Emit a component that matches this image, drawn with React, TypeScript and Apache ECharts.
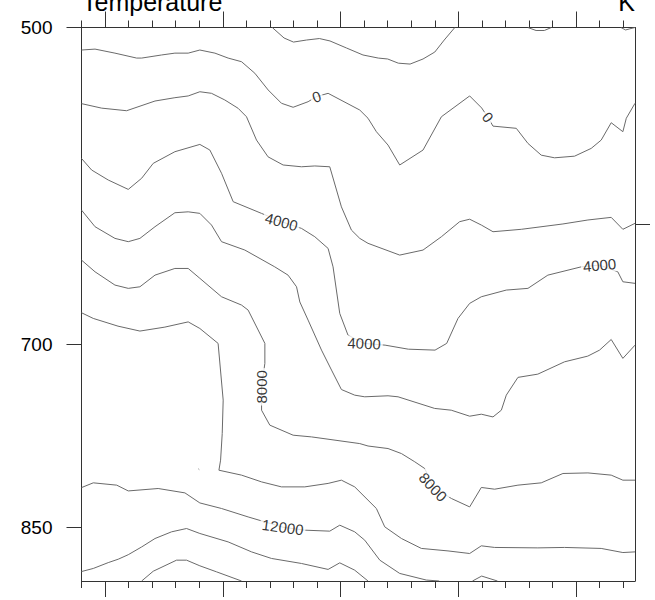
import React, { useEffect, useRef } from "react";
import * as echarts from "echarts";

// x: horizontal coordinate (98..145), y: pressure (hPa, log axis)
const X_MIN = 98;
const X_MAX = 145;
const P_TOP = 500;
const P_BOTTOM = 900;

const xMinorTicks = [98, 100, 102, 104, 106, 108, 110, 112, 114, 116, 118, 120, 122, 124, 126, 128, 130, 132, 134, 136, 138, 140, 142, 144];
const xMajorTicks = [100, 110, 120, 130, 140];
const pressureTicks = [500, 700, 850];
const rightTicks = [616];

const contourM2000 = [[114.2, 500], [115.2, 505.6], [116.0, 507.8], [117.1, 506.7], [118.2, 505.9], [119.1, 507.2], [120.5, 511], [121.9, 514.8], [123.2, 516.5], [124.0, 517], [124.9, 519.3], [125.9, 519.8], [127.0, 517], [128.0, 513.2], [128.8, 506.7], [129.7, 500]];
const contourM2000b = [[135.9, 500], [136.6, 501.6], [137.3, 501.6], [137.9, 500]];
const contourM2000c = [[143.8, 500], [144.2, 501.3], [144.5, 500.8], [145, 500]];

const contour0 = [[98.0, 512.1], [99.15, 511.6], [100.84, 513.8], [102.68, 516.5], [103.11, 516.5], [104.8, 514.8], [105.93, 513.8], [107.06, 513.8], [108.05, 512.1], [109.33, 513.8], [110.45, 516.5], [111.59, 518.5], [112.72, 524.9], [113.85, 534.3], [114.98, 541.9], [115.97, 544.2], [117.24, 541.0], [117.95, 538.1], [118.94, 536.2], [121.63, 545.8], [122.33, 550.6], [123.04, 558.5], [124.03, 566.5], [125.02, 578.6], [127.0, 569.5], [128.56, 549.7], [130.96, 537.7], [131.98, 544.6], [132.51, 550.0], [132.94, 555.2], [134.92, 556.5], [135.91, 565.5], [137.04, 572.6], [138.17, 574.2], [139.87, 573.2], [141.28, 568.5], [142.13, 563.5], [142.98, 553.2], [143.97, 558.5], [144.26, 550.6], [145, 541.9]];

const contour2000 = [[98.0, 542.1], [99.71, 544.7], [101.83, 546.2], [104.24, 540.6], [105.93, 538.7], [107.06, 537.7], [108.05, 535.3], [109.04, 536.2], [110.17, 540], [111.3, 544.8], [112.01, 549.7], [112.86, 563.5], [113.84, 573.6], [115.12, 578.6], [116.68, 579.7], [117.81, 579.2], [119.08, 579.7], [120.07, 604.9], [120.92, 620], [121.63, 625.5], [122.33, 628.8], [125.02, 636.7], [127.0, 633.3], [128.56, 624.4], [130.11, 614.5], [130.96, 612.9], [131.95, 616.7], [132.94, 621.1], [135.35, 619.5], [138.88, 616.0], [141.0, 613.4], [142.98, 611.7], [143.97, 619.5], [145, 615.6]];

const contour4000 = [[98.0, 574.6], [98.86, 581.7], [100.27, 587.9], [101.97, 593.8], [103.11, 586.8], [104.09, 577.6], [105.93, 570.5], [108.05, 566.1], [108.9, 569.5], [109.89, 583.7], [110.88, 601.6], [113.28, 609.1], [114.98, 614.5], [116.68, 618.9], [117.81, 624.4], [118.94, 632.2], [119.36, 644.7], [119.93, 677.4], [120.63, 693.2], [122.0, 699.3], [123.78, 700.6], [125.75, 703.6], [128.02, 704.3], [129.01, 699.3], [129.97, 681.0], [130.96, 670.2], [131.95, 665.5], [134.07, 660.8], [135.91, 659.6], [137.6, 650.4], [140.43, 644.7], [141.99, 643.5], [143.54, 648.1], [143.97, 655.0], [145, 656.1]];

const contour6000 = [[98.0, 607.0], [99.15, 617.8], [100.84, 625.5], [101.97, 627.7], [102.96, 625.5], [104.24, 617.8], [105.93, 608.7], [107.06, 608.1], [108.05, 609.1], [109.04, 616.7], [109.89, 627.7], [111.87, 633.3], [114.41, 644.7], [115.54, 650.4], [116.26, 658.5], [116.54, 669.2], [117.24, 682.2], [118.38, 704.3], [119.23, 719.4], [120.07, 734.4], [121.2, 738.8], [122.05, 740.1], [124.03, 739.3], [124.88, 740.1], [127.99, 749.3], [129.4, 750.7], [130.96, 755.5], [131.95, 753.9], [132.94, 756.1], [133.65, 750.7], [134.07, 738.8], [135.06, 725.0], [136.75, 722.5], [139.02, 713.1], [140.99, 708.8], [141.99, 704.3], [142.98, 696.4], [143.97, 710.5], [145, 700.6]];

const contour8000 = [[98.0, 640.1], [99.15, 648.1], [100.84, 657.3], [101.97, 659.6], [102.96, 658.5], [104.24, 650.4], [105.93, 645.8], [107.06, 645.8], [108.05, 652.6], [109.89, 665.5], [111.59, 671.4], [112.15, 675.0], [113.57, 699.3], [113.57, 714.3], [113.29, 732.3], [113.29, 750.7], [113.99, 762.7], [115.97, 770.9], [117.53, 772.3], [121.63, 777.8], [122.33, 779.8], [124.03, 781.9], [125.17, 786.1], [126.3, 793.0], [127.15, 798.7], [127.85, 814.4], [129.41, 824.5], [130.96, 831.9], [131.95, 814.9], [133.08, 816.4], [135.06, 812.9], [137.04, 810.9], [138.88, 802.9], [141.0, 802.4], [142.98, 804.3], [143.97, 808.6], [145, 808.6]];

const contour10000 = [[98.0, 676.9], [99.0, 681.0], [101.1, 686.6], [102.96, 690.2], [105.08, 687.3], [107.06, 683.5], [108.05, 688.3], [109.6, 699.3], [110.03, 742.7], [109.95, 769.5], [109.81, 791.6], [109.67, 800.1], [111.59, 804.3], [113.29, 810.1], [114.98, 814.4], [116.96, 814.4], [118.94, 811.4], [120.07, 808.6], [121.2, 814.4], [123.04, 833.3], [123.75, 849.7], [125.17, 860.3], [126.86, 869.4], [129.12, 871.7], [130.96, 874.1], [131.95, 867.0], [133.08, 868.5], [136.75, 868.9], [139.02, 868.5], [142.13, 869.4], [143.97, 873.2], [145, 872.6]];
const contour10000dot = [[107.93, 799.0], [108.0, 799.6]];

const contour12000 = [[98.0, 815.0], [99.0, 810.9], [100.99, 812.9], [101.97, 817.9], [104.51, 815.8], [106.78, 819.6], [108.05, 828.4], [109.89, 833.3], [112.15, 840.8], [115.09, 850.0], [116.96, 852.7], [119.08, 853.6], [119.93, 848.2], [121.2, 854.2], [122.05, 861.8], [123.33, 880.3], [125.02, 892.8], [127.28, 899.1], [128.38, 900]];
const contour12000b = [[131.2, 900], [131.98, 895.3], [133.32, 900]];

const contour14000 = [[98.0, 891.0], [99.0, 888.1], [100.27, 882.6], [101.12, 879.4], [101.97, 875.2], [103.11, 868.0], [104.24, 860.3], [105.65, 854.2], [106.92, 851.2], [108.05, 855.7], [110.45, 863.4], [112.44, 872.6], [114.13, 878.7], [116.68, 883.4], [118.94, 889.0], [119.93, 882.8], [121.2, 889.7], [122.33, 900]];

const contour16000 = [[103.11, 900], [104.09, 890.7], [106.07, 880.3], [106.92, 880.3], [108.05, 885.6], [109.47, 891.3], [111.59, 900]];

const contourLines = [
  contourM2000, contourM2000b, contourM2000c, contour0, contour2000, contour4000,
  contour6000, contour8000, contour10000, contour10000dot, contour12000, contour12000b,
  contour14000, contour16000,
];

// contour labels: text, x, pressure, rotation (deg)
const labelTexts = ["0", "0", "4000", "4000", "4000", "8000", "8000", "12000"];
const labelX = [117.95, 132.51, 114.98, 122.0, 141.99, 113.29, 127.85, 115.09];
const labelP = [538.1, 550.0, 614.5, 699.3, 643.5, 732.3, 814.4, 850.0];
const labelRot = [20, -50, -15, -2, 5, 90, -47, -8];

const FONT = "'Liberation Sans', Arial, Helvetica, sans-serif";
const FRAME = "#333";
const LINE = "#6a6a6a";

export default function App() {
  const ref = useRef<HTMLDivElement>(null);

  useEffect(() => {
    if (!ref.current) return;
    const chart = echarts.init(ref.current, null, { renderer: "svg" });

    const frameLine = { show: true, lineStyle: { color: FRAME, width: 1 } };
    const mkX = (position: string, ticks: number[], len: number, showLine: boolean) => ({
      type: "value",
      min: X_MIN,
      max: X_MAX,
      position,
      axisLine: showLine ? frameLine : { show: false },
      axisTick: { show: true, inside: false, length: len, customValues: ticks, lineStyle: { color: FRAME, width: 1 } },
      axisLabel: { show: false },
      splitLine: { show: false },
    });

    const series: any[] = contourLines.map((d) => ({
      type: "line",
      data: d,
      xAxisIndex: 0,
      yAxisIndex: 0,
      symbol: "none",
      showSymbol: false,
      silent: true,
      smooth: false,
      lineStyle: { color: LINE, width: 1 },
      z: 2,
    }));

    series.push({
      type: "scatter",
      xAxisIndex: 0,
      yAxisIndex: 0,
      symbolSize: 0,
      silent: true,
      z: 5,
      label: {
        show: true,
        position: "inside",
        fontSize: 15,
        fontFamily: FONT,
        color: "#000",
        backgroundColor: "#fff",
        padding: [0, 2],
      },
      data: labelTexts.map((t, i) => ({
        value: [labelX[i], labelP[i]],
        label: { formatter: t, rotate: labelRot[i] },
      })),
    });

    chart.setOption({
      animation: false,
      backgroundColor: "#fff",
      grid: { left: 81.5, top: 27.5, width: 553.5, height: 553.5, containLabel: false },
      xAxis: [
        mkX("bottom", xMinorTicks, 7, true),
        mkX("bottom", xMajorTicks, 16, false),
        mkX("top", xMinorTicks, 7, true),
        mkX("top", xMajorTicks, 16, false),
      ],
      yAxis: [
        {
          type: "log",
          min: P_TOP,
          max: P_BOTTOM,
          inverse: true,
          position: "left",
          axisLine: frameLine,
          axisTick: { show: true, inside: false, length: 15, customValues: pressureTicks, lineStyle: { color: FRAME, width: 1 } },
          axisLabel: { show: true, customValues: pressureTicks, fontSize: 19, fontFamily: FONT, color: "#000", margin: 29 },
          splitLine: { show: false },
          minorTick: { show: false },
        },
        {
          type: "log",
          min: P_TOP,
          max: P_BOTTOM,
          inverse: true,
          position: "right",
          axisLine: frameLine,
          axisTick: { show: true, inside: false, length: 15, customValues: rightTicks, lineStyle: { color: FRAME, width: 1 } },
          axisLabel: { show: false },
          splitLine: { show: false },
        },
      ],
      graphic: [
        {
          type: "text",
          x: 82,
          y: 2,
          style: { text: "Temperature", fontSize: 25, fontFamily: FONT, fill: "#000", align: "left", verticalAlign: "middle" },
        },
        {
          type: "text",
          x: 635,
          y: 2,
          style: { text: "K", fontSize: 25, fontFamily: FONT, fill: "#000", align: "right", verticalAlign: "middle" },
        },
      ],
      series,
    });

    return () => chart.dispose();
  }, []);

  return (
    <div
      ref={ref}
      style={{ position: "fixed", left: 0, top: 0, width: 655, height: 600, background: "#fff" }}
    />
  );
}
